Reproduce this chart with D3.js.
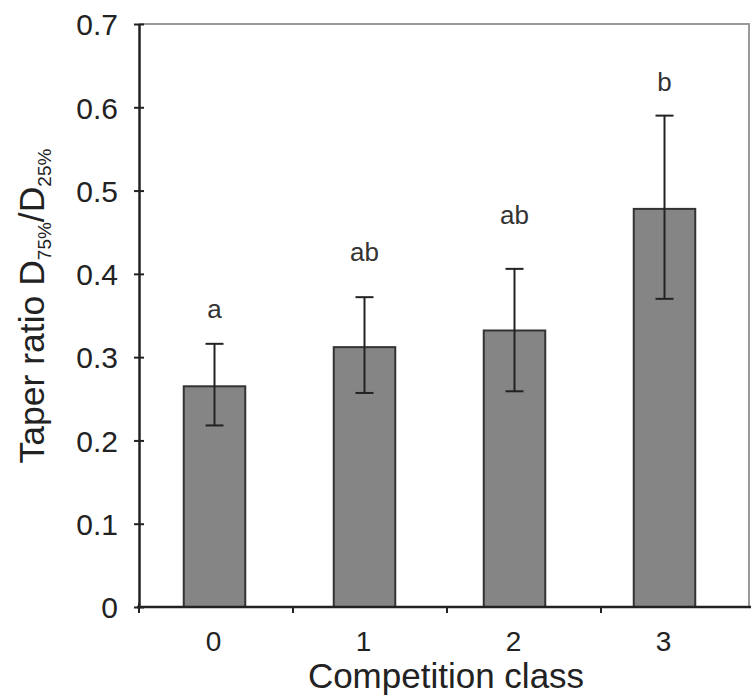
<!DOCTYPE html>
<html>
<head>
<meta charset="utf-8">
<script src="https://cdn.jsdelivr.net/npm/d3@7"></script>
<style>
  html, body { margin: 0; padding: 0; background: #fff; }
  svg { display: block; font-family: "Liberation Sans", Arial, sans-serif; }
</style>
</head>
<body>
<svg id="chart" width="751" height="700"></svg>
<script>
// Competition classes and taper ratio (mean with upper/lower error limits)
const classes = ["0", "1", "2", "3"];
const means = [0.265, 0.312, 0.332, 0.478];
const upper = [0.316, 0.372, 0.406, 0.590];
const lower = [0.218, 0.257, 0.259, 0.370];
// significance letters and the height (in ratio units) at which each sits
const letters = ["a", "ab", "ab", "b"];
const letterAt = [0.347, 0.416, 0.460, 0.620];
const yTicks = [0, 0.1, 0.2, 0.3, 0.4, 0.5, 0.6, 0.7];

const svg = d3.select("#chart");
const plotLeft = 139, plotTop = 24, plotBottom = 607, frameRight = 749;

const y = d3.scaleLinear().domain([0, 0.7]).range([plotBottom, plotTop]);
const x = d3.scaleBand().domain(classes).range([139.5, 739.5]).padding(0);
// boundaries between classes for the x tick marks
const xEdge = d3.scaleLinear().domain([0, classes.length]).range([plotLeft, 755]);

const ink = "#222";

// frame (top and right)
svg.append("path")
  .attr("d", `M${plotLeft},${plotTop}H${frameRight}V${plotBottom}`)
  .attr("fill", "none").attr("stroke", "#9a9a9a").attr("stroke-width", 2);

// bars
const barW = x.bandwidth() * 0.41;
svg.append("g").selectAll("rect").data(classes).join("rect")
  .attr("x", (d) => x(d) + x.bandwidth() / 2 - barW / 2)
  .attr("y", (d, i) => y(means[i]))
  .attr("width", barW)
  .attr("height", (d, i) => y(0) - y(means[i]))
  .attr("fill", "#858585").attr("stroke", "#333").attr("stroke-width", 2);

// error bars
const cap = 9;
const eb = svg.append("g").attr("stroke", ink).attr("stroke-width", 2);
classes.forEach((c, i) => {
  const cx = x(c) + x.bandwidth() / 2;
  eb.append("line").attr("x1", cx).attr("x2", cx).attr("y1", y(upper[i])).attr("y2", y(lower[i]));
  eb.append("line").attr("x1", cx - cap).attr("x2", cx + cap).attr("y1", y(upper[i])).attr("y2", y(upper[i]));
  eb.append("line").attr("x1", cx - cap).attr("x2", cx + cap).attr("y1", y(lower[i])).attr("y2", y(lower[i]));
});

// significance letters
svg.append("g").selectAll("text").data(letters).join("text")
  .attr("x", (d, i) => x(classes[i]) + x.bandwidth() / 2)
  .attr("y", (d, i) => y(letterAt[i]))
  .attr("text-anchor", "middle")
  .attr("font-size", 26).attr("fill", "#333")
  .text((d) => d);

// y axis
const yAxis = svg.append("g").attr("transform", `translate(${plotLeft},0)`)
  .call(d3.axisLeft(y).tickValues(yTicks).tickFormat((d) => d === 0 ? "0" : d3.format(".1f")(d))
    .tickSize(5).tickSizeOuter(0).tickPadding(16));
yAxis.select(".domain").attr("stroke", ink).attr("stroke-width", 2.5);
yAxis.selectAll(".tick line").attr("stroke", ink).attr("stroke-width", 2).attr("x2", 5).attr("x1", -5);
yAxis.selectAll(".tick text").attr("font-size", 30).attr("fill", ink)
  .attr("font-family", "Liberation Sans, Arial, sans-serif").attr("x", -21).attr("dy", "0.36em");

// x axis line and boundary ticks
svg.append("line").attr("x1", plotLeft - 2).attr("x2", 751).attr("y1", plotBottom).attr("y2", plotBottom)
  .attr("stroke", ink).attr("stroke-width", 2.5);
svg.append("g").selectAll("line").data(d3.range(classes.length + 1)).join("line")
  .attr("x1", (d) => xEdge(d)).attr("x2", (d) => xEdge(d))
  .attr("y1", (d) => d === 0 ? plotBottom - 4 : plotBottom).attr("y2", plotBottom + 6)
  .attr("stroke", ink).attr("stroke-width", 2);

// x category labels
svg.append("g").selectAll("text").data(classes).join("text")
  .attr("x", (d) => x(d) + x.bandwidth() / 2 - 1)
  .attr("y", 651)
  .attr("text-anchor", "middle")
  .attr("font-size", 28).attr("fill", ink)
  .text((d) => d);

// axis titles
svg.append("text")
  .attr("x", 446).attr("y", 688)
  .attr("text-anchor", "middle")
  .attr("font-size", 35).attr("fill", ink)
  .text("Competition class");

const yt = svg.append("text")
  .attr("transform", "translate(44,306) rotate(-90)")
  .attr("text-anchor", "middle")
  .attr("font-size", 35.5).attr("fill", ink);
yt.append("tspan").text("Taper ratio D");
yt.append("tspan").attr("font-size", 19).attr("dy", 7).text("75%");
yt.append("tspan").attr("dy", -7).text("/D");
yt.append("tspan").attr("font-size", 19).attr("dy", 7).text("25%");
</script>
</body>
</html>
